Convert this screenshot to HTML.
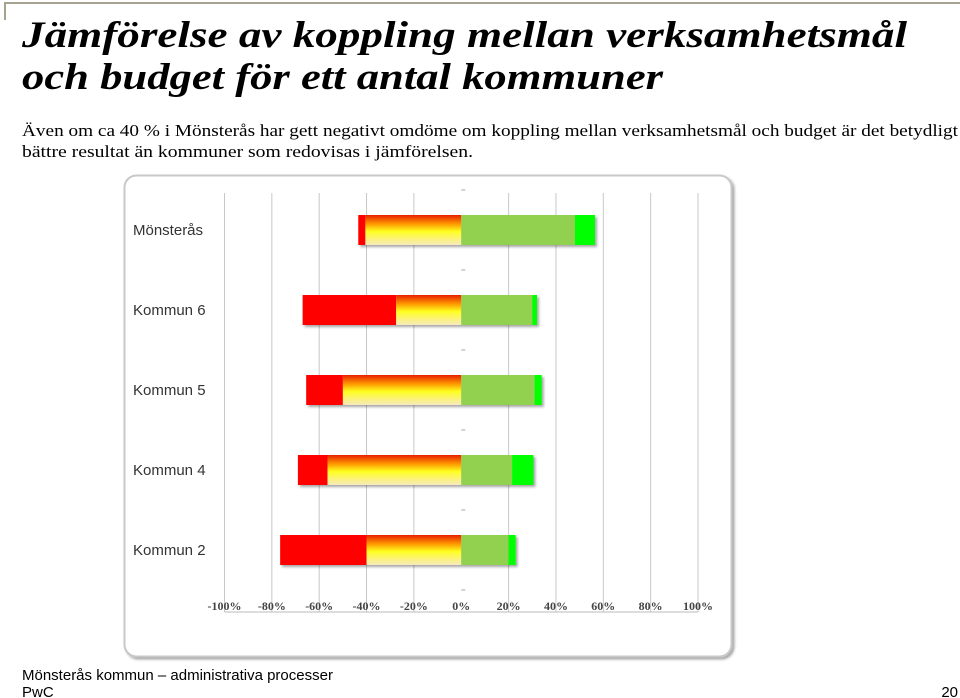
<!DOCTYPE html>
<html><head><meta charset="utf-8"><style>
html,body{margin:0;padding:0;background:#fff;}
svg{display:block;}
</style></head><body>
<svg width="960" height="698" viewBox="0 0 960 698" xmlns="http://www.w3.org/2000/svg" font-family="Liberation Serif, serif">
<g>
<line x1="4" y1="3" x2="960" y2="3" stroke="#a8a290" stroke-width="2"/>
<line x1="5" y1="3" x2="5" y2="20" stroke="#a8a290" stroke-width="2"/>
</g>
<text x="22" y="47" font-size="37" font-weight="bold" font-style="italic" textLength="885" lengthAdjust="spacingAndGlyphs">Jämförelse av koppling mellan verksamhetsmål</text>
<text x="22" y="89" font-size="37" font-weight="bold" font-style="italic" textLength="641" lengthAdjust="spacingAndGlyphs">och budget för ett antal kommuner</text>
<text x="22" y="136" font-size="17" textLength="936" lengthAdjust="spacingAndGlyphs">Även om ca 40 % i Mönsterås har gett negativt omdöme om koppling mellan verksamhetsmål och budget är det betydligt</text>
<text x="22" y="157" font-size="17" textLength="451" lengthAdjust="spacingAndGlyphs">bättre resultat än kommuner som redovisas i jämförelsen.</text>

<defs>
<linearGradient id="warm" x1="0" y1="0" x2="0" y2="1">
<stop offset="0" stop-color="#e82000"/><stop offset="0.3" stop-color="#ff9a00"/><stop offset="0.55" stop-color="#ffff20"/><stop offset="1" stop-color="#f8e8c0"/>
</linearGradient>
<filter id="sh" x="-5%" y="-5%" width="110%" height="130%"><feDropShadow dx="2" dy="2" stdDeviation="1.2" flood-color="#000" flood-opacity="0.35"/></filter>
</defs>
<rect x="124.5" y="175.5" width="607" height="481" rx="12" fill="#fff" stroke="#c8c8c8" stroke-width="2" filter="url(#sh)"/>
<g id="chart"></g>

<text x="22" y="680" font-family="Liberation Sans, sans-serif" font-size="15">Mönsterås kommun – administrativa processer</text>
<text x="22" y="697" font-family="Liberation Sans, sans-serif" font-size="15">PwC</text>
<text x="958" y="697" text-anchor="end" font-family="Liberation Sans, sans-serif" font-size="15">20</text>
</svg>
<script>
const categories = ["Mönsterås","Kommun 6","Kommun 5","Kommun 4","Kommun 2"];
const veryNegative = [-3, -39.5, -15.5, -12.5, -36.5];
const negative = [-40.5, -27.5, -50, -56.5, -40];
const positive = [48, 30, 31, 21.5, 20];
const veryPositive = [8.5, 2, 3, 9, 3];
const ticks = [-100,-80,-60,-40,-20,0,20,40,60,80,100];

const NS="http://www.w3.org/2000/svg";
const g=document.getElementById('chart');
const x0=224.5, x1=698, yTop=193, yBot=612;
const xs=v=>x0+(v+100)/200*(x1-x0);
const rowY=i=>230+i*80;
const bh=30;
function mk(t,a){const e=document.createElementNS(NS,t);for(const k in a)e.setAttribute(k,a[k]);g.appendChild(e);return e;}
ticks.forEach(t=>{
  if(t!==0){const l=mk('line',{x1:xs(t),x2:xs(t),y1:yTop,y2:yBot,stroke:'#c8c8c8','stroke-width':1});
  
  }
  const tx=mk('text',{x:xs(t),y:610,'text-anchor':'middle','font-size':12,'font-weight':'bold',fill:'#444'});
  tx.textContent=t+'%';
  
  
});
const axis=mk('line',{x1:x0,x2:x1,y1:yBot,y2:yBot,stroke:'#bbb','stroke-width':1});


for(let i=0;i<=categories.length;i++){
  const tk=mk('line',{x1:xs(0),x2:xs(0)+4,y1:rowY(i)-40,y2:rowY(i)-40,stroke:'#aaa'});
  
  
}
categories.forEach((c,i)=>{
  const y=rowY(i)-bh/2;
  const lab=mk('text',{x:133,y:rowY(i)+5,'font-family':'Liberation Sans, sans-serif','font-size':15,fill:'#333'});
  lab.textContent=c;
  
  
  const gg=document.createElementNS(NS,'g');gg.setAttribute('filter','url(#sh)');g.appendChild(gg);
  
  
  function bar(a,b,fill,name){const r=document.createElementNS(NS,'rect');
    r.setAttribute('x',xs(Math.min(a,b)));r.setAttribute('width',Math.abs(xs(b)-xs(a)));
    r.setAttribute('y',y);r.setAttribute('height',bh);r.setAttribute('fill',fill);
    
    
    gg.appendChild(r);}
  const n=negative[i], vn=veryNegative[i], p=positive[i], vp=veryPositive[i];
  bar(n+vn,n,'#ff0000','bar-very-negative');
  bar(n,0,'url(#warm)','bar-negative');
  bar(0,p,'#92d050','bar-positive');
  bar(p,p+vp,'#00ff00','bar-very-positive');
});
</script>
</body></html>
